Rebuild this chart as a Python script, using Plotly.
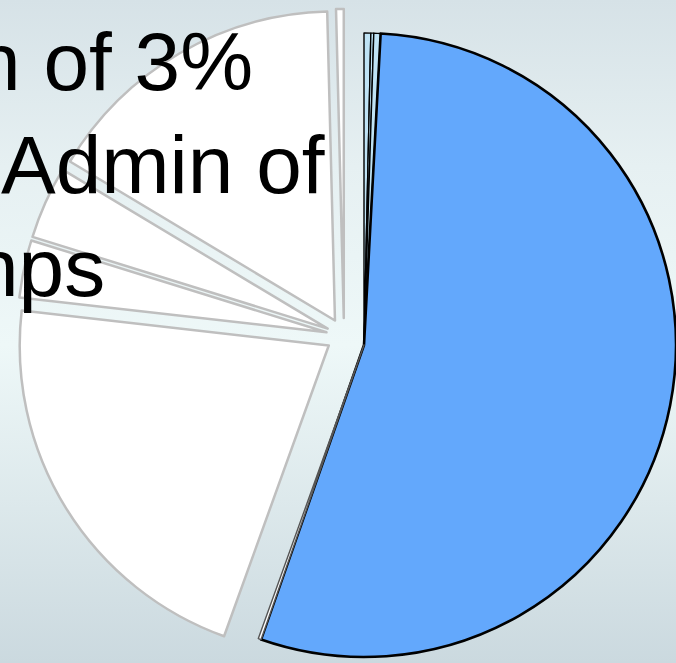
import plotly.graph_objects as go

# Pie slices, clockwise from 12 o'clock
categories = ["Reserve A", "Reserve B", "Reserve C", "Main allocation", "Adjustment",
              "Segment 1", "Segment 2", "Segment 3", "Segment 4", "Segment 5"]
shares = [0.35, 0.15, 0.35, 54.5, 0.15, 21.3, 3.0, 3.8, 16.0, 0.4]
# slices kept in the main group; the others are exploded outwards
in_main_group = [True, True, True, True, True, False, False, False, False, False]

caption_lines = ["n of 3%", "Admin of", "nps"]

W, H = 676, 663

MAIN_FILL = {"Main allocation": "#63a8fc", "Adjustment": "#ffffff"}
RESERVE_FILL = "#bfe3f5"
SEGMENT_FILL = "#ffffff"
SEGMENT_EDGE = "#bfbfbf"
CLEAR = "rgba(0,0,0,0)"
PULL = 0.058


def domain_box(cx, cy, half):
    """Pie domain (paper fractions) for a box centred on (cx, cy) in pixels."""
    return dict(
        x=[max(0.0, (cx - half) / W), min(1.0, (cx + half) / W)],
        y=[max(0.0, 1 - (cy + half) / H), min(1.0, 1 - (cy - half) / H)],
    )


fig = go.Figure()

# slide background: soft vertical gradient
fig.add_trace(go.Scatter(
    x=[0, 1, 1, 0, 0], y=[0, 0, 1, 1, 0],
    mode="lines", fill="toself",
    line=dict(width=0, color=CLEAR),
    fillgradient=dict(type="vertical",
                      colorscale=[[0.0, "#cbd9df"], [0.48, "#eef8f8"],
                                  [0.75, "#e6f0f2"], [1.0, "#d6e2e7"]]),
    hoverinfo="skip", showlegend=False,
))

# main group: blue slice and the thin reserve slivers
main_colors, main_lines, main_widths = [], [], []
for name, keep in zip(categories, in_main_group):
    if keep:
        main_colors.append(MAIN_FILL.get(name, RESERVE_FILL))
        main_lines.append("#000000" if name != "Adjustment" else "#555555")
        main_widths.append(2.6 if name == "Main allocation" else 1.4)
    else:
        main_colors.append(CLEAR)
        main_lines.append(CLEAR)
        main_widths.append(0)

fig.add_trace(go.Pie(
    labels=categories, values=shares, sort=False,
    direction="clockwise", rotation=0,
    marker=dict(colors=main_colors, line=dict(color=main_lines, width=main_widths)),
    textinfo="none", hoverinfo="label+percent", showlegend=False,
    domain=domain_box(364, 345, 312),
))

# exploded segments
seg_colors, seg_lines, seg_widths, seg_pull = [], [], [], []
for keep in in_main_group:
    if keep:
        seg_colors.append(CLEAR)
        seg_lines.append(CLEAR)
        seg_widths.append(0)
        seg_pull.append(0)
    else:
        seg_colors.append(SEGMENT_FILL)
        seg_lines.append(SEGMENT_EDGE)
        seg_widths.append(2.5)
        seg_pull.append(PULL)

fig.add_trace(go.Pie(
    labels=categories, values=shares, sort=False,
    direction="clockwise", rotation=0, pull=seg_pull,
    marker=dict(colors=seg_colors, line=dict(color=seg_lines, width=seg_widths)),
    textinfo="none", hoverinfo="label+percent", showlegend=False,
    domain=domain_box(344, 336, 327),
))

# caption text, running in from the left edge
caption_right = [255, 327, 107]
caption_mid = [61, 164, 267]
for text, xr, ym in zip(caption_lines, caption_right, caption_mid):
    fig.add_annotation(
        text=text, xref="paper", yref="paper",
        x=xr / W, y=1 - ym / H, xanchor="right", yanchor="middle",
        showarrow=False, align="left",
        font=dict(family="Liberation Sans, Arial, sans-serif", size=82, color="#000000"),
    )

fig.update_xaxes(visible=False, range=[0, 1], fixedrange=True)
fig.update_yaxes(visible=False, range=[0, 1], fixedrange=True)
fig.update_layout(
    width=W, height=H,
    margin=dict(l=0, r=0, t=0, b=0),
    paper_bgcolor="#e6f0f2", plot_bgcolor="rgba(0,0,0,0)",
    showlegend=False,
)

fig.write_html("out.html")
